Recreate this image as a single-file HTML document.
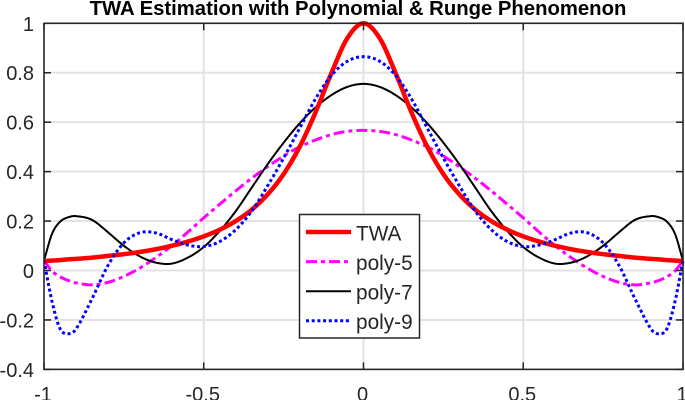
<!DOCTYPE html>
<html>
<head>
<meta charset="utf-8">
<title>TWA Estimation with Polynomial &amp; Runge Phenomenon</title>
<style>
html,body{margin:0;padding:0;background:#fff;width:685px;height:400px;overflow:hidden}
svg{display:block}
text{font-family:"Liberation Sans",Arial,sans-serif;fill:#262626}
</style>
</head>
<body>
<svg id="chart" width="685" height="400" viewBox="0 0 685 400" xmlns="http://www.w3.org/2000/svg">
  <text x="358" y="15" text-anchor="middle" font-size="20.3" font-weight="bold" style="fill:#000">TWA Estimation with Polynomial &amp; Runge Phenomenon</text>
  <defs><clipPath id="plot-clip"><rect x="44" y="21" width="641" height="350"/></clipPath></defs>
  <g id="grid"></g>
  <g id="series" clip-path="url(#plot-clip)"></g>
  <g id="axes"></g>
  <g>
    <rect x="299.5" y="214.5" width="120" height="123.5" fill="#fff" stroke="#262626" stroke-width="1.5"/>
    <g id="legend-entries"></g>
  </g>
</svg>
<script>
const xValues = [-1,-0.975,-0.95,-0.925,-0.9,-0.85,-0.8,-0.75,-0.7,-0.65,-0.6,-0.55,-0.5,-0.45,-0.4,-0.35,-0.3,-0.25,-0.2,-0.15,-0.1,-0.05,0,0.05,0.1,0.15,0.2,0.25,0.3,0.35,0.4,0.45,0.5,0.55,0.6,0.65,0.7,0.75,0.8,0.85,0.9,0.925,0.95,0.975,1];
const twaValues = [0.038,0.04,0.042,0.045,0.047,0.052,0.059,0.066,0.075,0.086,0.1,0.117,0.138,0.165,0.2,0.246,0.308,0.39,0.5,0.64,0.8,0.941,1,0.941,0.8,0.64,0.5,0.39,0.308,0.246,0.2,0.165,0.138,0.117,0.1,0.086,0.075,0.066,0.059,0.052,0.047,0.045,0.042,0.04,0.038];
const poly5Values = [0.04,-0.002,-0.025,-0.04,-0.05,-0.058,-0.048,-0.024,0.01,0.052,0.1,0.155,0.213,0.268,0.322,0.373,0.42,0.463,0.5,0.528,0.55,0.563,0.567,0.563,0.55,0.528,0.5,0.463,0.42,0.373,0.322,0.268,0.213,0.155,0.1,0.052,0.01,-0.024,-0.048,-0.058,-0.05,-0.04,-0.025,-0.002,0.04];
const poly7Values = [0.04,0.148,0.197,0.215,0.22,0.205,0.155,0.1,0.057,0.032,0.028,0.052,0.095,0.16,0.24,0.335,0.43,0.517,0.595,0.66,0.71,0.743,0.755,0.743,0.71,0.66,0.595,0.517,0.43,0.335,0.24,0.16,0.095,0.052,0.028,0.032,0.057,0.1,0.155,0.205,0.22,0.215,0.197,0.148,0.04];
const poly9Values = [0.04,-0.125,-0.235,-0.256,-0.237,-0.115,0.02,0.112,0.153,0.152,0.125,0.103,0.097,0.117,0.165,0.24,0.343,0.455,0.575,0.695,0.79,0.847,0.865,0.847,0.79,0.695,0.575,0.455,0.343,0.24,0.165,0.117,0.097,0.103,0.125,0.152,0.153,0.112,0.02,-0.115,-0.237,-0.256,-0.235,-0.125,0.04];
const xTickValues = [-1,-0.5,0,0.5,1];
const xTickLabels = ['-1','-0.5','0','0.5','1'];
const yTickValues = [-0.4,-0.2,0,0.2,0.4,0.6,0.8,1];
const yTickLabels = ['-0.4','-0.2','0','0.2','0.4','0.6','0.8','1'];
const seriesLabels = ['TWA','poly-5','poly-7','poly-9'];

const xScale = v => 363.5 + v * 319.5;
const yScale = v => 270.5 - v * 247.2;
const SVGNS = 'http://www.w3.org/2000/svg';

function make(tag, attrs, parent) {
  const el = document.createElementNS(SVGNS, tag);
  for (const k in attrs) el.setAttribute(k, attrs[k]);
  parent.appendChild(el);
  return el;
}

const grid = document.getElementById('grid');
const axes = document.getElementById('axes');
const series = document.getElementById('series');
const legendEntries = document.getElementById('legend-entries');
const AX = '#262626';

xTickValues.forEach((v, i) => {
  const x = xScale(v);
  if (Math.abs(v) < 1) {
    const g = make('line', {x1: x, x2: x, y1: yScale(1), y2: yScale(-0.4), stroke: '#e3e3e3', 'stroke-width': 2}, grid);
    
    
  }
  const t1 = make('line', {x1: x, x2: x, y1: yScale(-0.4), y2: yScale(-0.4) - 7, stroke: AX, 'stroke-width': 1.5}, axes);
  
  
  const t2 = make('line', {x1: x, x2: x, y1: yScale(1), y2: yScale(1) + 7, stroke: AX, 'stroke-width': 1.5}, axes);
  
  
  const lab = make('text', {x: x - 1, y: 401, 'text-anchor': 'middle', 'font-size': 20}, axes);
  lab.textContent = xTickLabels[i];
  
  
});

yTickValues.forEach((v, i) => {
  const y = yScale(v);
  if (v > -0.4 && v < 1) {
    const g = make('line', {x1: xScale(-1), x2: xScale(1), y1: y, y2: y, stroke: '#e3e3e3', 'stroke-width': 2}, grid);
    
    
  }
  const t1 = make('line', {x1: xScale(-1), x2: xScale(-1) + 7, y1: y, y2: y, stroke: AX, 'stroke-width': 1.5}, axes);
  
  
  const t2 = make('line', {x1: xScale(1), x2: xScale(1) - 7, y1: y, y2: y, stroke: AX, 'stroke-width': 1.5}, axes);
  
  
  const lab = make('text', {x: 34, y: y + 7.5, 'text-anchor': 'end', 'font-size': 20}, axes);
  lab.textContent = yTickLabels[i];
  
  
});

const frame = make('rect', {x: xScale(-1), y: yScale(1), width: xScale(1) - xScale(-1), height: yScale(-0.4) - yScale(1), fill: 'none', stroke: AX, 'stroke-width': 1.6}, axes);



/* Smooth curve through the read values: cubic Hermite in data space. */
function tangents(xs, ys) {
  return ys.map((_, i) => {
    if (i === 0) return (ys[1] - ys[0]) / (xs[1] - xs[0]);
    if (i === ys.length - 1) return (ys[i] - ys[i - 1]) / (xs[i] - xs[i - 1]);
    return (ys[i + 1] - ys[i - 1]) / (xs[i + 1] - xs[i - 1]);
  });
}
function curvePath(xs, ys) {
  const m = tangents(xs, ys);
  let d = 'M' + xScale(xs[0]).toFixed(2) + ' ' + yScale(ys[0]).toFixed(2);
  for (let i = 0; i < xs.length - 1; i++) {
    const h = xs[i + 1] - xs[i];
    for (let s = 1; s <= 8; s++) {
      const t = s / 8, t2 = t * t, t3 = t2 * t;
      const y = (2 * t3 - 3 * t2 + 1) * ys[i] + (t3 - 2 * t2 + t) * h * m[i] + (-2 * t3 + 3 * t2) * ys[i + 1] + (t3 - t2) * h * m[i + 1];
      d += 'L' + xScale(xs[i] + t * h).toFixed(2) + ' ' + yScale(y).toFixed(2);
    }
  }
  return d;
}

const p5 = make('path', {d: curvePath(xValues, poly5Values), fill: 'none', stroke: '#ff00ff', 'stroke-width': 3, 'stroke-dasharray': '11 4 4 4'}, series);


const p7 = make('path', {d: curvePath(xValues, poly7Values), fill: 'none', stroke: '#000', 'stroke-width': 2}, series);


const tw = make('path', {d: curvePath(xValues, twaValues), fill: 'none', stroke: '#ff0000', 'stroke-width': 4.5}, series);


const p9 = make('path', {d: curvePath(xValues, poly9Values), fill: 'none', stroke: '#0000ff', 'stroke-width': 3, 'stroke-dasharray': '3 2.7'}, series);



const legendStyles = [
  {stroke: '#ff0000', width: 4.5, dash: 'none'},
  {stroke: '#ff00ff', width: 3, dash: '11 4 4 4'},
  {stroke: '#000', width: 2, dash: 'none'},
  {stroke: '#0000ff', width: 3, dash: '3 2.7'}
];
seriesLabels.forEach((name, i) => {
  const y = 232 + i * 29.6;
  const st = legendStyles[i];
  const l = make('line', {x1: 306, x2: 351, y1: y, y2: y, stroke: st.stroke, 'stroke-width': st.width, 'stroke-dasharray': st.dash}, legendEntries);
  
  
  const t = make('text', {x: 356, y: y + 8.3, 'font-size': 20.8}, legendEntries);
  t.textContent = name;
  
  
});
</script>
</body>
</html>
